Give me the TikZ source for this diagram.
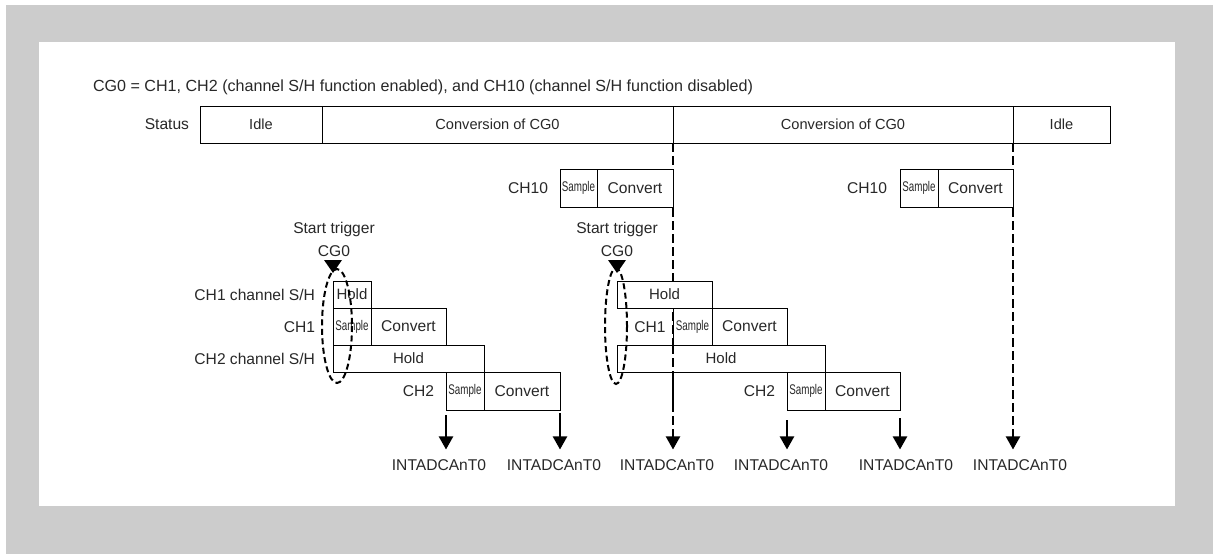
\documentclass[tikz,border=0pt]{standalone}
\usepackage{fontspec}
\setmainfont{Liberation Sans}
\usetikzlibrary{arrows.meta,calc}
\definecolor{bgray}{RGB}{204,204,204}
\definecolor{txt}{RGB}{40,40,40}
\newcommand{\smpl}{\scalebox{0.7}[1]{\fontsize{14}{16}\selectfont Sample}}
\begin{document}
\begin{tikzpicture}[x=1pt,y=-1pt,
  every node/.style={font=\fontsize{15.6}{18}\selectfont, text=txt},
  cell/.style={draw=black, line width=0.9pt, fill=white, inner sep=0pt, outer sep=0pt, anchor=north west, align=center},
  barcell/.style={cell, minimum height=37pt, font=\fontsize{14.6}{17}\selectfont},
  holdtxt/.style={font=\fontsize{15}{17}\selectfont},
  lbl/.style={inner sep=0pt, outer sep=0pt},
  dashline/.style={line width=2pt, dash pattern=on 9pt off 4pt},
  oval/.style={line width=2pt, dash pattern=on 6pt off 3.5pt},
  arr/.style={line width=2.2pt, -{Triangle[width=14pt,length=13pt]}}
  ]
\fill[bgray] (6,5) rectangle (1213,554);
\fill[white] (39,42) rectangle (1175,506);
\useasboundingbox (0,0) rectangle (1213,554);

% title
\node[lbl, anchor=west, font=\fontsize{16.1}{19}\selectfont] (title) at (93,87) {CG0 = CH1, CH2 (channel S/H function enabled), and CH10 (channel S/H function disabled)};

% status bar
\node[lbl, anchor=east] (status) at (189,124.5) {Status};
\node[barcell, minimum width=122pt] (idle1) at (200,106) {Idle};
\node[barcell, minimum width=351pt] (conv1) at (322,106) {Conversion of CG0};
\node[barcell, minimum width=340pt] (conv2) at (673,106) {Conversion of CG0};
\node[barcell, minimum width=97pt] (idle2) at (1013,106) {Idle};

% bottom labels
\node[lbl] (l1) at (439,465) {INTADCAnT0};
\node[lbl] (l2) at (554,465) {INTADCAnT0};
\node[lbl] (l3) at (667,465) {INTADCAnT0};
\node[lbl] (l4) at (781,465) {INTADCAnT0};
\node[lbl] (l5) at (906,465) {INTADCAnT0};
\node[lbl] (l6) at (1020,465) {INTADCAnT0};

% dashed lines from status bar
\draw[dashline, -{Triangle[width=14pt,length=13pt]}] (conv1.south east) -- ([yshift=10pt]conv1.south east |- l3.north);
\draw[dashline, -{Triangle[width=14pt,length=13pt]}] (conv2.south east) -- ([yshift=10pt]conv2.south east |- l6.north);

% CH10 boxes
\node[lbl, anchor=east] (ch10a) at (548,188) {CH10};
\node[cell, minimum width=37pt, minimum height=38pt] (s10a) at (560,169) {\smpl};
\node[cell, minimum width=76pt, minimum height=38pt] (c10a) at (597,169) {Convert};
\node[lbl, anchor=east] (ch10b) at (887,188) {CH10};
\node[cell, minimum width=38pt, minimum height=38pt] (s10b) at (900,169) {\smpl};
\node[cell, minimum width=75pt, minimum height=38pt] (c10b) at (938,169) {Convert};

% ---- group 1
\node[lbl] (st1) at (334,229) {Start trigger};
\node[lbl] (cg1) at (334,251) {CG0};
\node[lbl, anchor=east] (lh1) at (315,294.5) {CH1 channel S/H};
\node[lbl, anchor=east] (lc1) at (315,327) {CH1};
\node[lbl, anchor=east] (lh2) at (315,358.5) {CH2 channel S/H};
\node[lbl, anchor=east] (lc2) at (434,391) {CH2};
\node[cell, holdtxt, minimum width=38pt, minimum height=27pt] (ha1) at (333,281) {Hold};
\node[cell, minimum width=38pt, minimum height=37pt] (sa1) at (333,308) {\smpl};
\node[cell, minimum width=75pt, minimum height=37pt] (ca1) at (371,308) {Convert};
\node[cell, holdtxt, minimum width=151pt, minimum height=27pt] (ha2) at (333,345) {Hold};
\node[cell, minimum width=38pt, minimum height=38pt] (sa2) at (446,372) {\smpl};
\node[cell, minimum width=76pt, minimum height=38pt] (ca2) at (484,372) {Convert};
\fill[black] (324,260) -- (342,260) -- (333,273) -- cycle;
\draw[oval] (337,326) ellipse [x radius=15, y radius=57];

% ---- group 2
\node[lbl] (st2) at (617,229) {Start trigger};
\node[lbl] (cg2) at (617,251) {CG0};
\node[cell, holdtxt, minimum width=95pt, minimum height=27pt] (hb1) at (617,281) {Hold};
\node[lbl] (lc3) at (650,327) {CH1};
\node[cell, minimum width=39pt, minimum height=37pt] (sb1) at (673,308) {\smpl};
\node[cell, minimum width=75pt, minimum height=37pt] (cb1) at (712,308) {Convert};
\node[cell, holdtxt, minimum width=208pt, minimum height=27pt] (hb2) at (617,345) {Hold};
\node[lbl, anchor=east] (lc4) at (775,391) {CH2};
\node[cell, minimum width=38pt, minimum height=38pt] (sb2) at (787,372) {\smpl};
\node[cell, minimum width=75pt, minimum height=38pt] (cb2) at (825,372) {Convert};
\fill[black] (608,260) -- (626,260) -- (617,273) -- cycle;
\draw[oval] (616,326) ellipse [x radius=11, y radius=58];
% dashed line visible through lower rows of group 2
\draw[dashline] (sb1.south west) -- (sb1.south west |- sb2.south);

% ---- solid arrows
\draw[arr, shorten <=5pt] (sa2.south west) -- ([yshift=10pt]sa2.south west |- l1.north);
\draw[arr, shorten <=3pt] (ca2.south east) -- ([yshift=10pt]ca2.south east |- l2.north);
\draw[arr, shorten <=10pt] (sb2.south west) -- ([yshift=10pt]sb2.south west |- l4.north);
\draw[arr, shorten <=8pt] (cb2.south east) -- ([yshift=10pt]cb2.south east |- l5.north);
\end{tikzpicture}
\end{document}
